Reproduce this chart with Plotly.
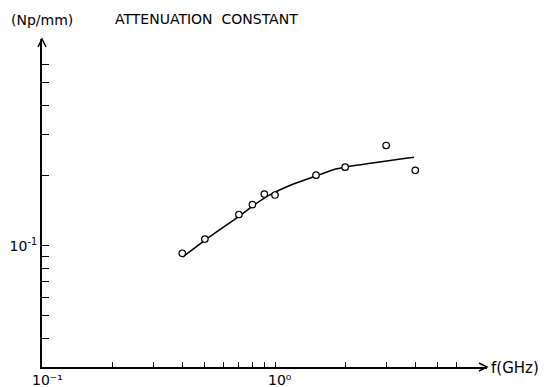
import math
import plotly.graph_objects as go

# measured data (frequency in GHz, attenuation constant in Np/mm)
freq_ghz = [0.4, 0.5, 0.7, 0.8, 0.9, 1.0, 1.5, 2.0, 3.0, 4.0]
alpha_np_mm = [0.0928, 0.1068, 0.1361, 0.150, 0.1665, 0.1650, 0.2008, 0.2173, 0.2692, 0.2107]

# fitted curve
curve_freq = [0.4, 0.5, 0.71, 0.81, 0.95, 1.2, 1.53, 1.78, 2.02, 3.95]
curve_alpha = [0.0892, 0.1055, 0.1350, 0.149, 0.1651, 0.1840, 0.2005, 0.2120, 0.2177, 0.2395]

x_tickvals = [0.1, 0.2, 0.3, 0.4, 0.5, 0.6, 0.7, 0.8, 0.9, 1, 2, 3, 4, 5, 6]
x_labels = {0.1: "10⁻¹", 1: "10⁰"}
y_tickvals = [0.04, 0.05, 0.06, 0.07, 0.08, 0.09, 0.1, 0.2, 0.3, 0.4, 0.5, 0.6]
y_ticktext = [" ", " ", " ", " ", " ", " ", "10<sup>-1</sup>", " ", " ", " ", " ", " "]

FONT = "DejaVu Sans"

fig = go.Figure()
fig.add_trace(go.Scatter(
    x=curve_freq, y=curve_alpha, mode="lines",
    line=dict(color="black", width=1.5, shape="spline", smoothing=0.8),
    showlegend=False, hoverinfo="skip"))
fig.add_trace(go.Scatter(
    x=freq_ghz, y=alpha_np_mm, mode="markers",
    marker=dict(symbol="circle", size=6.5, color="white",
                line=dict(color="black", width=1.2)),
    showlegend=False))

# plot area in page pixels (page has an 8px body margin)
OFF = 8
L, R, T, B = 42, 487, 39, 367
W, H = 557 - OFF, 387 - OFF

fig.update_layout(
    width=W, height=H,
    margin=dict(l=L - OFF, r=W + OFF - R, t=T - OFF, b=H + OFF - B, autoexpand=False),
    paper_bgcolor="white", plot_bgcolor="white",
    font=dict(family=FONT, color="black", size=14),
    xaxis=dict(type="log", range=[-1, 0.9099], showgrid=False, zeroline=False,
               showline=True, linecolor="black", linewidth=2,
               ticks="inside", ticklen=5, tickwidth=1, tickcolor="black",
               tickvals=x_tickvals, showticklabels=False, automargin=False),
    yaxis=dict(type="log", range=[-1.5206, -0.1129], showgrid=False, zeroline=False,
               showline=True, linecolor="black", linewidth=2,
               ticks="inside", ticklen=7, tickwidth=1, tickcolor="black",
               tickvals=y_tickvals, ticktext=y_ticktext,
               tickfont=dict(size=14, family=FONT), automargin=False),
)

def px_x(p):
    return (p - L) / (R - L)

def px_y(p):
    return (B - p) / (B - T)

for v, txt in x_labels.items():
    fig.add_annotation(text=txt, x=math.log10(v), xref="x", y=px_y(380), yref="paper",
                       showarrow=False, xanchor="center", yanchor="middle", xshift=5,
                       borderpad=0, font=dict(size=14, family=FONT))

fig.add_annotation(text="(Np/mm)", x=px_x(42), y=px_y(20), xref="paper", yref="paper",
                   showarrow=False, xanchor="center", yanchor="middle",
                   font=dict(size=14, family=FONT))
fig.add_annotation(text="ATTENUATION  CONSTANT", x=px_x(113), y=px_y(19),
                   xref="paper", yref="paper",
                   showarrow=False, xanchor="left", yanchor="middle",
                   font=dict(size=14, family=FONT))
fig.add_annotation(text="f(GHz)", x=px_x(489), y=px_y(368), xref="paper", yref="paper",
                   showarrow=False, xanchor="left", yanchor="middle",
                   font=dict(size=15, family=FONT))

# arrow heads
fig.add_shape(type="path", xref="paper", yref="paper",
              xsizemode="pixel", ysizemode="pixel", xanchor=1, yanchor=0,
              path="M -8,4 L 0,0 L -8,-4", line=dict(color="black", width=1.5))
fig.add_shape(type="path", xref="paper", yref="paper",
              xsizemode="pixel", ysizemode="pixel", xanchor=0, yanchor=1,
              path="M -4,-8 L 0,0 L 4,-8", line=dict(color="black", width=1.5))

fig.write_html("out.html")
